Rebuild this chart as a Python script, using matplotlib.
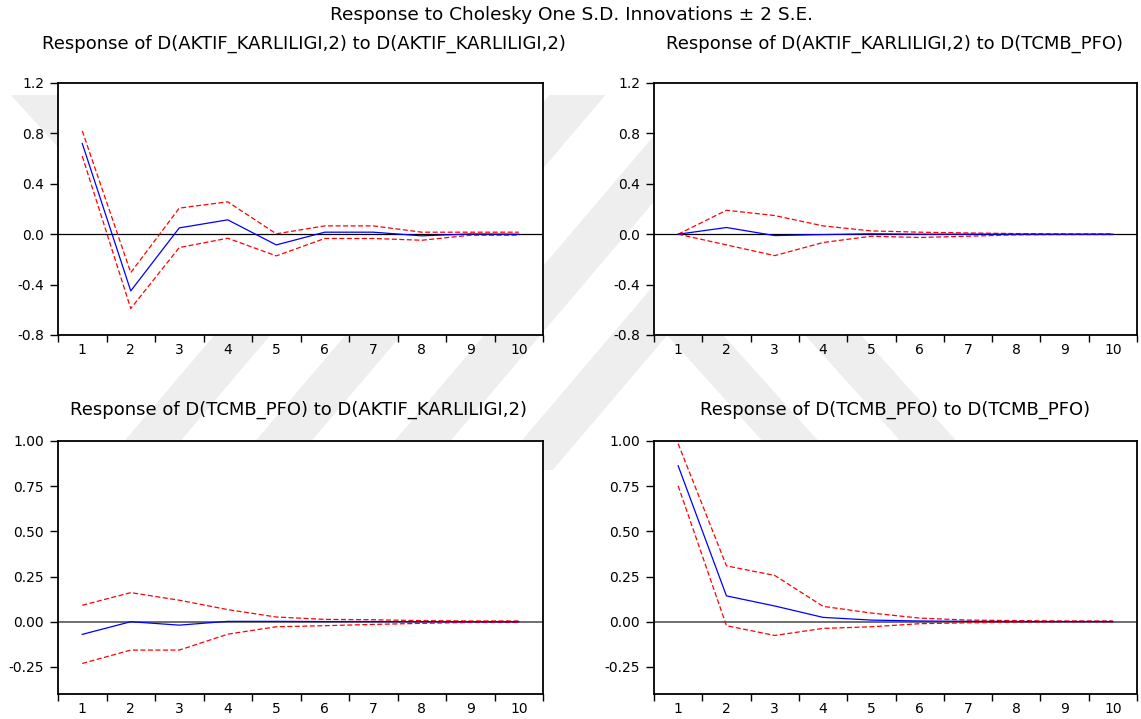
"""Impulse-response grid (EViews style): Cholesky one S.D. innovations +/- 2 S.E."""

import matplotlib

matplotlib.use("Agg")
import matplotlib.pyplot as plt
from matplotlib.patches import Polygon

plt.rcParams["font.family"] = ["DejaVu Sans"]
plt.rcParams["axes.unicode_minus"] = False

W, H = 1141, 719

periods = list(range(1, 11))

# Response of D(AKTIF_KARLILIGI,2) to D(AKTIF_KARLILIGI,2)
ak_ak = [0.72, -0.45, 0.05, 0.114, -0.085, 0.016, 0.016, -0.013, 0.002, 0.0]
ak_ak_hi = [0.82, -0.305, 0.207, 0.257, 0.003, 0.066, 0.066, 0.016, 0.016, 0.016]
ak_ak_lo = [0.62, -0.59, -0.106, -0.032, -0.172, -0.034, -0.034, -0.048, -0.008, -0.008]

# Response of D(AKTIF_KARLILIGI,2) to D(TCMB_PFO)
ak_tc = [0.0, 0.053, -0.011, -0.003, 0.003, 0.0, 0.0, 0.0, 0.0, 0.0]
ak_tc_hi = [0.0, 0.19, 0.148, 0.066, 0.026, 0.016, 0.01, 0.005, 0.003, 0.003]
ak_tc_lo = [0.0, -0.085, -0.17, -0.066, -0.016, -0.026, -0.016, -0.005, -0.003, -0.003]

# Response of D(TCMB_PFO) to D(AKTIF_KARLILIGI,2)
tc_ak = [-0.07, 0.0, -0.019, 0.002, 0.002, 0.001, 0.001, 0.0, 0.0, 0.0]
tc_ak_hi = [0.091, 0.161, 0.119, 0.067, 0.026, 0.013, 0.011, 0.006, 0.004, 0.004]
tc_ak_lo = [-0.231, -0.157, -0.157, -0.069, -0.028, -0.022, -0.015, -0.009, -0.004, -0.004]

# Response of D(TCMB_PFO) to D(TCMB_PFO)
tc_tc = [0.863, 0.143, 0.087, 0.024, 0.009, 0.004, 0.002, 0.001, 0.001, 0.001]
tc_tc_hi = [0.985, 0.309, 0.256, 0.085, 0.048, 0.02, 0.009, 0.006, 0.004, 0.004]
tc_tc_lo = [0.752, -0.022, -0.076, -0.037, -0.028, -0.011, -0.006, -0.002, 0.0, 0.0]

titles = [
    "Response of D(AKTIF_KARLILIGI,2) to D(AKTIF_KARLILIGI,2)",
    "Response of D(AKTIF_KARLILIGI,2) to D(TCMB_PFO)",
    "Response of D(TCMB_PFO) to D(AKTIF_KARLILIGI,2)",
    "Response of D(TCMB_PFO) to D(TCMB_PFO)",
]
top_yticks = [-0.8, -0.4, 0.0, 0.4, 0.8, 1.2]
bottom_yticks = [-0.25, 0.0, 0.25, 0.5, 0.75, 1.0]

# faint background watermark stripes (pixel space): centre x at y=385, slope dx/dy
wm_fwd_centres = [200, 331, 470, 597]
wm_back_centres = [740, 878]
wm_width = 56
wm_color = "#eeeeee"


def stripe(ax, xc, slope, y0, y1):
    pts = []
    for y in (y0, y1):
        c = xc + slope * (y - 385)
        pts.append((c - wm_width / 2, y))
        pts.append((c + wm_width / 2, y))
    poly = [pts[0], pts[1], pts[3], pts[2]]
    ax.add_patch(Polygon(poly, closed=True, facecolor=wm_color, edgecolor="none"))


fig = plt.figure(figsize=(W / 100, H / 100), dpi=100)

bg = fig.add_axes([0, 0, 1, 1], zorder=-5)
bg.set_xlim(0, W)
bg.set_ylim(H, 0)
bg.axis("off")
for xc in wm_fwd_centres:
    stripe(bg, xc, -0.85, 95, 470)
for xc in wm_back_centres:
    stripe(bg, xc, 0.9, 330, 600)
stripe(bg, 300, 0.9, 95, 250)


def px_axes(left, top, right, bottom):
    return fig.add_axes([left / W, 1 - bottom / H, (right - left) / W, (bottom - top) / H])


boxes = [(58, 83, 543, 335), (654, 83, 1137, 335), (58, 441, 543, 694), (654, 441, 1137, 694)]
title_pos = [(304, 48.5), (895, 48.5), (298, 415), (895, 415)]
series = [
    (ak_ak, ak_ak_hi, ak_ak_lo),
    (ak_tc, ak_tc_hi, ak_tc_lo),
    (tc_ak, tc_ak_hi, tc_ak_lo),
    (tc_tc, tc_tc_hi, tc_tc_lo),
]

for i, (box, (resp, hi, lo)) in enumerate(zip(boxes, series)):
    ax = px_axes(*box)
    ax.set_facecolor("white")
    top_row = i < 2
    ax.axhline(0, color="black" if top_row else "#555555", lw=0.9 if top_row else 1.2, zorder=1)
    ax.plot(periods, hi, color="red", lw=0.9, ls=(0, (4, 2)), zorder=2)
    ax.plot(periods, lo, color="red", lw=0.9, ls=(0, (4, 2)), zorder=2)
    ax.plot(periods, resp, color="blue", lw=0.9, zorder=3)

    ax.set_xlim(0.5, 10.5)
    ax.set_xticks(periods)
    ax.set_xticks([p + 0.5 for p in range(0, 11)], minor=True)
    ax.tick_params(axis="x", which="major", length=0, pad=6, labelsize=10)
    ax.tick_params(axis="x", which="minor", direction="out", length=5, width=1)

    if top_row:
        ax.set_ylim(-0.8, 1.2)
        ax.set_yticks(top_yticks)
        ax.set_yticklabels([f"{v:.1f}" for v in top_yticks])
    else:
        ax.set_ylim(-0.4, 1.0)
        ax.set_yticks(bottom_yticks)
        ax.set_yticklabels([f"{v:.2f}" for v in bottom_yticks])
    ax.tick_params(axis="y", direction="out", length=6, width=1, pad=4, labelsize=10)
    for sp in ax.spines.values():
        sp.set_linewidth(1.3)

    tx, ty = title_pos[i]
    fig.text(tx / W, 1 - ty / H, titles[i], ha="center", va="baseline", fontsize=13)

fig.text(572 / W, 1 - 20 / H, "Response to Cholesky One S.D. Innovations \u00b1 2 S.E.",
         ha="center", va="baseline", fontsize=13.3)

fig.savefig("out.png", dpi=100)
